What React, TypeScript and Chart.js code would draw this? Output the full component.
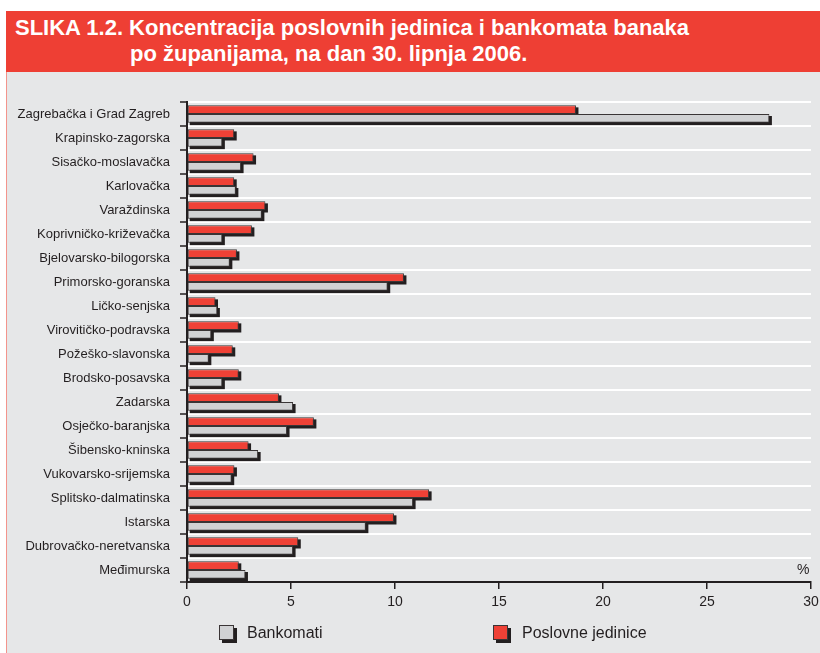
import React, { useEffect, useRef } from "react";
import { Chart, registerables } from "chart.js";

Chart.register(...registerables);

const categories = [
  "Zagrebačka i Grad Zagreb",
  "Krapinsko-zagorska",
  "Sisačko-moslavačka",
  "Karlovačka",
  "Varaždinska",
  "Koprivničko-križevačka",
  "Bjelovarsko-bilogorska",
  "Primorsko-goranska",
  "Ličko-senjska",
  "Virovitičko-podravska",
  "Požeško-slavonska",
  "Brodsko-posavska",
  "Zadarska",
  "Osječko-baranjska",
  "Šibensko-kninska",
  "Vukovarsko-srijemska",
  "Splitsko-dalmatinska",
  "Istarska",
  "Dubrovačko-neretvanska",
  "Međimurska",
];

const poslovneJedinice = [
  18.7, 2.27, 3.2, 2.27, 3.77, 3.12, 2.4, 10.43, 1.37, 2.49, 2.2, 2.49, 4.42,
  6.1, 2.96, 2.28, 11.64, 9.95, 5.35, 2.49,
];

const bankomati = [
  28.0, 1.7, 2.6, 2.35, 3.6, 1.7, 2.06, 9.65, 1.46, 1.17, 1.05, 1.7, 5.1, 4.81,
  3.42, 2.15, 10.87, 8.6, 5.1, 2.81,
];

const xTicks = [0, 5, 10, 15, 20, 25, 30];

const FONT = "'Liberation Sans', Arial, Helvetica, sans-serif";
const DARK = "#231f20";
const RED = "#ef4136";
const GREY = "#d1d2d4";

const shadowPlugin = {
  id: "barShadow",
  beforeDatasetsDraw(chart: any) {
    const ctx = chart.ctx;
    ctx.save();
    ctx.fillStyle = DARK;
    chart.data.datasets.forEach((_ds: any, i: number) => {
      const meta = chart.getDatasetMeta(i);
      meta.data.forEach((bar: any) => {
        const { x, y, base, height } = bar.getProps(
          ["x", "y", "base", "height"],
          true
        );
        const left = Math.min(x, base);
        const w = Math.abs(x - base);
        ctx.fillRect(left + 2, y - height / 2 + 2, w + 0.5, height + 0.5);
      });
    });
    ctx.restore();
  },
};

export default function App() {
  const canvasRef = useRef<HTMLCanvasElement | null>(null);

  useEffect(() => {
    if (!canvasRef.current) return;
    const chart = new Chart(canvasRef.current, {
      type: "bar",
      data: {
        labels: categories,
        datasets: [
          {
            label: "Poslovne jedinice",
            data: poslovneJedinice,
            backgroundColor: RED,
            borderColor: "#3a3536",
            borderWidth: 1,
            borderSkipped: false,
            barPercentage: 1,
            categoryPercentage: 0.72,
          },
          {
            label: "Bankomati",
            data: bankomati,
            backgroundColor: GREY,
            borderColor: "#3a3536",
            borderWidth: 1,
            borderSkipped: false,
            barPercentage: 1,
            categoryPercentage: 0.72,
          },
        ],
      },
      options: {
        indexAxis: "y",
        responsive: false,
        animation: false,
        layout: { padding: { top: 30, right: 9, bottom: 31, left: 0 } },
        plugins: {
          legend: { display: false },
          tooltip: { enabled: false },
          title: { display: false },
        },
        scales: {
          x: {
            type: "linear",
            min: xTicks[0],
            max: xTicks[xTicks.length - 1],
            afterBuildTicks: (scale: any) => {
              scale.ticks = xTicks.map((v) => ({ value: v }));
            },
            ticks: {
              color: DARK,
              font: { family: FONT, size: 14 },
              padding: 5,
              maxRotation: 0,
            },
            grid: {
              display: true,
              drawOnChartArea: false,
              color: DARK,
              tickLength: 7,
              lineWidth: 1.5,
            },
            border: { display: true, color: DARK, width: 2 },
            afterFit: (scale: any) => {
              scale.height = 40;
              scale.paddingLeft = 0;
              scale.paddingRight = 0;
            },
          },
          y: {
            type: "category",
            ticks: {
              color: DARK,
              font: { family: FONT, size: 13 },
              padding: 10,
              autoSkip: false,
            },
            grid: {
              offset: true,
              color: (ctx: any) =>
                ctx.index === categories.length ? "rgba(0,0,0,0)" : "#ffffff",
              lineWidth: 2,
              tickColor: DARK,
              tickWidth: 1.5,
              tickLength: 7,
            },
            border: { display: true, color: DARK, width: 2 },
            afterFit: (scale: any) => {
              scale.width = 187;
              scale.paddingTop = 0;
              scale.paddingBottom = 0;
            },
          },
        },
      } as any,
      plugins: [shadowPlugin],
    });
    return () => chart.destroy();
  }, []);

  const swatch = (bg: string): React.CSSProperties => ({
    position: "absolute",
    width: 13,
    height: 13,
    background: bg,
    border: "1px solid #3a3536",
    boxShadow: `3px 3px 0 ${DARK}`,
  });

  return (
    <div
      style={{
        position: "absolute",
        left: 0,
        top: 0,
        width: 820,
        height: 653,
        background: "#ffffff",
        overflow: "hidden",
        fontFamily: FONT,
      }}
    >
      <div
        style={{
          position: "absolute",
          left: 6,
          top: 11,
          width: 814,
          height: 61,
          background: "#ee3f34",
        }}
      />
      <div
        style={{
          position: "absolute",
          left: 15,
          top: 15,
          color: "#ffffff",
          fontWeight: "bold",
          fontSize: 22,
          lineHeight: "26px",
          whiteSpace: "nowrap",
        }}
      >
        SLIKA 1.2. Koncentracija poslovnih jedinica i bankomata banaka
      </div>
      <div
        style={{
          position: "absolute",
          left: 130,
          top: 41,
          color: "#ffffff",
          fontWeight: "bold",
          fontSize: 22,
          lineHeight: "26px",
          whiteSpace: "nowrap",
        }}
      >
        po županijama, na dan 30. lipnja 2006.
      </div>
      <div
        style={{
          position: "absolute",
          left: 6,
          top: 72,
          width: 814,
          height: 581,
          background: "#e6e7e8",
          borderLeft: "1px solid #f3948c",
          boxSizing: "border-box",
        }}
      />
      <canvas
        ref={canvasRef}
        width={820}
        height={581}
        style={{ position: "absolute", left: 0, top: 72, width: 820, height: 581 }}
      />
      <div
        style={{
          position: "absolute",
          left: 797,
          top: 561,
          fontSize: 14,
          color: DARK,
        }}
      >
        %
      </div>
      <div style={{ ...swatch(GREY), left: 219, top: 625 }} />
      <div
        style={{
          position: "absolute",
          left: 247,
          top: 624,
          fontSize: 16,
          lineHeight: "18px",
          color: DARK,
          whiteSpace: "nowrap",
        }}
      >
        Bankomati
      </div>
      <div style={{ ...swatch(RED), left: 493, top: 625 }} />
      <div
        style={{
          position: "absolute",
          left: 522,
          top: 624,
          fontSize: 16,
          lineHeight: "18px",
          color: DARK,
          whiteSpace: "nowrap",
        }}
      >
        Poslovne jedinice
      </div>
    </div>
  );
}
